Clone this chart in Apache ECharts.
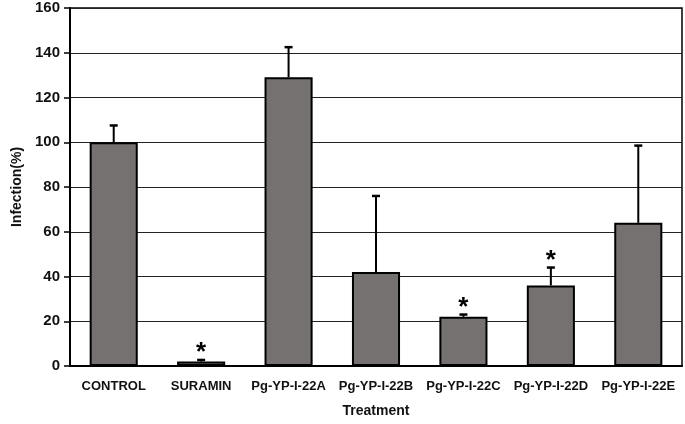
<!DOCTYPE html>
<html>
<head>
<meta charset="utf-8">
<script src="https://cdn.jsdelivr.net/npm/echarts@6/dist/echarts.min.js"></script>
<style>
  html, body { margin: 0; padding: 0; background: #fff; }
  #chart { width: 685px; height: 424px; }
</style>
</head>
<body>
<div id="chart"></div>
<script>
// data
var categories = ['CONTROL', 'SURAMIN', 'Pg-YP-I-22A', 'Pg-YP-I-22B', 'Pg-YP-I-22C', 'Pg-YP-I-22D', 'Pg-YP-I-22E'];
var infection = [100, 2, 129, 42, 22, 36, 64];
var errorTop = [107.5, 2.7, 142.5, 76, 23, 44, 98.5];
var significant = [false, true, false, false, true, true, false];
var yTicks = [0, 20, 40, 60, 80, 100, 120, 140, 160];

var FONT = 'Liberation Sans Narrow, Liberation Sans, Arial, sans-serif';

var chart = echarts.init(document.getElementById('chart'));

var errData = categories.map(function (c, i) {
  return [i, infection[i], errorTop[i], significant[i] ? 1 : 0];
});

var option = {
  animation: false,
  grid: {
    left: 70, right: 3, top: 8, bottom: 58,
    show: true, borderColor: '#000', borderWidth: 1.5, backgroundColor: 'transparent'
  },
  xAxis: {
    type: 'category',
    data: categories,
    name: 'Treatment',
    nameLocation: 'middle',
    nameGap: 38,
    nameTextStyle: { fontFamily: FONT, fontWeight: 'bold', fontSize: 14, color: '#111' },
    axisLine: { lineStyle: { color: '#000', width: 2 } },
    axisTick: { show: false },
    axisLabel: { fontFamily: FONT, fontWeight: 'bold', fontSize: 13, color: '#111', margin: 14, interval: 0 }
  },
  yAxis: {
    type: 'value',
    min: yTicks[0],
    max: yTicks[yTicks.length - 1],
    interval: 20,
    name: 'Infection(%)',
    nameLocation: 'middle',
    nameGap: 45,
    nameTextStyle: { fontFamily: FONT, fontWeight: 'bold', fontSize: 14, color: '#111' },
    axisLine: { show: true, lineStyle: { color: '#000', width: 2 } },
    axisTick: { show: true, length: 6, lineStyle: { color: '#000', width: 1.5 } },
    axisLabel: { fontFamily: FONT, fontWeight: 'bold', fontSize: 15, color: '#111', margin: 10 },
    splitLine: { show: true, lineStyle: { color: '#222', width: 1.2 } }
  },
  series: [
    {
      type: 'bar',
      data: infection,
      barWidth: '55%',
      itemStyle: { color: '#767171', borderColor: '#000', borderWidth: 2 },
      z: 2
    },
    {
      type: 'custom',
      data: errData,
      z: 3,
      renderItem: function (params, api) {
        var x = api.value(0);
        var base = api.coord([x, api.value(1)]);
        var top = api.coord([x, api.value(2)]);
        var cap = 4;
        var children = [
          { type: 'line', shape: { x1: base[0], y1: base[1], x2: top[0], y2: top[1] }, style: { stroke: '#000', lineWidth: 2 } },
          { type: 'line', shape: { x1: top[0] - cap, y1: top[1], x2: top[0] + cap, y2: top[1] }, style: { stroke: '#000', lineWidth: 2.5 } }
        ];
        if (api.value(3)) {
          children.push({
            type: 'text',
            style: {
              text: '*', x: top[0], y: top[1] + 6,
              align: 'center', verticalAlign: 'bottom',
              font: 'bold 26px Liberation Sans', fill: '#000'
            }
          });
        }
        return { type: 'group', children: children };
      }
    }
  ]
};
chart.setOption(option);
</script>
</body>
</html>
